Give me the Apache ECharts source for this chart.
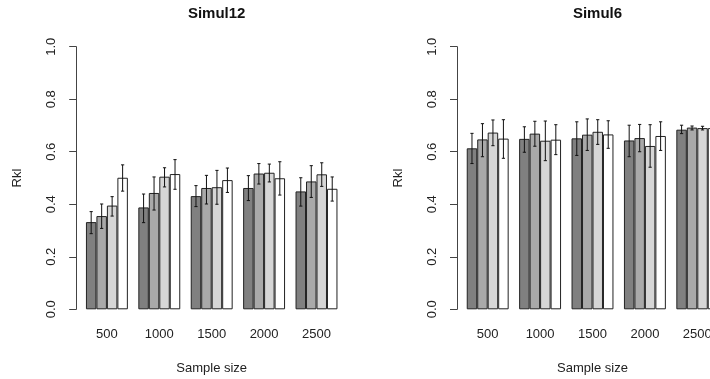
<!DOCTYPE html>
<html>
<head>
<meta charset="utf-8">
<script src="https://cdn.jsdelivr.net/npm/echarts@6/dist/echarts.min.js"></script>
<style>html,body{margin:0;padding:0;background:#fff}#c{width:710px;height:379px}</style>
</head>
<body>
<div id="c"></div>
<script>
const categories = ['500', '1000', '1500', '2000', '2500'];
const yTicks = [0, 0.2, 0.4, 0.6, 0.8, 1.0];
const panelTitles = ['Simul12', 'Simul6'];
const xTitle = 'Sample size';
const yTitle = 'Rkl';

// Simul12: four series (bar shades), values per sample size
const s12Mean1 = [0.332, 0.388, 0.431, 0.462, 0.449];
const s12Lo1   = [0.288, 0.330, 0.391, 0.414, 0.393];
const s12Hi1   = [0.372, 0.439, 0.471, 0.509, 0.501];
const s12Mean2 = [0.355, 0.443, 0.462, 0.517, 0.487];
const s12Lo2   = [0.308, 0.378, 0.401, 0.477, 0.426];
const s12Hi2   = [0.401, 0.504, 0.510, 0.555, 0.547];
const s12Mean3 = [0.395, 0.505, 0.465, 0.520, 0.514];
const s12Lo3   = [0.355, 0.466, 0.400, 0.485, 0.468];
const s12Hi3   = [0.429, 0.539, 0.529, 0.553, 0.558];
const s12Mean4 = [0.501, 0.515, 0.492, 0.499, 0.459];
const s12Lo4   = [0.450, 0.457, 0.445, 0.435, 0.412];
const s12Hi4   = [0.550, 0.570, 0.538, 0.562, 0.504];

// Simul6
const s6Mean1 = [0.613, 0.649, 0.651, 0.643, 0.684];
const s6Lo1   = [0.555, 0.598, 0.586, 0.581, 0.669];
const s6Hi1   = [0.670, 0.695, 0.714, 0.701, 0.701];
const s6Mean2 = [0.647, 0.669, 0.665, 0.652, 0.692];
const s6Lo2   = [0.581, 0.621, 0.605, 0.600, 0.683];
const s6Hi2   = [0.707, 0.716, 0.725, 0.704, 0.698];
const s6Mean3 = [0.673, 0.642, 0.676, 0.622, 0.690];
const s6Lo3   = [0.623, 0.566, 0.628, 0.541, 0.683];
const s6Hi3   = [0.721, 0.717, 0.722, 0.703, 0.697];
const s6Mean4 = [0.650, 0.646, 0.666, 0.660, 0.690];
const s6Lo4   = [0.575, 0.589, 0.613, 0.605, 0.682];
const s6Hi4   = [0.722, 0.703, 0.718, 0.714, 0.698];

const barColors = ['#808080', '#a9a9a9', '#d6d6d6', '#ffffff'];
const FONT = '"Liberation Sans", Arial, sans-serif';

const panels = [
  { means: [s12Mean1, s12Mean2, s12Mean3, s12Mean4], lo: [s12Lo1, s12Lo2, s12Lo3, s12Lo4], hi: [s12Hi1, s12Hi2, s12Hi3, s12Hi4] },
  { means: [s6Mean1, s6Mean2, s6Mean3, s6Mean4], lo: [s6Lo1, s6Lo2, s6Lo3, s6Lo4], hi: [s6Hi1, s6Hi2, s6Hi3, s6Hi4] }
];

const gridLefts = [80.7, 461.5];
const catWidth = 52.4;
const CAT_GAP = 0.2;

const grids = gridLefts.map(l => ({
  left: l, top: 46.7, width: catWidth * categories.length, height: 262.6,
  containLabel: false, outerBoundsMode: 'none'
}));

const xAxes = grids.map((g, i) => ({
  type: 'category', gridIndex: i, data: categories,
  axisLine: { show: false }, axisTick: { show: false },
  axisLabel: { fontFamily: FONT, fontSize: 13, color: '#222', margin: 19, interval: 0, hideOverlap: false },
  name: xTitle, nameLocation: 'middle', nameGap: 53,
  nameTextStyle: { fontFamily: FONT, fontSize: 13, color: '#222' }
}));

const yAxes = grids.map((g, i) => ({
  type: 'value', gridIndex: i, min: yTicks[0], max: yTicks[yTicks.length - 1], interval: 0.2,
  offset: 4.5,
  splitLine: { show: false },
  axisLine: { show: true, lineStyle: { color: '#444', width: 1 } },
  axisTick: { show: true, length: 7, lineStyle: { color: '#444', width: 1 } },
  axisLabel: { rotate: 90, fontFamily: FONT, fontSize: 13, color: '#222', margin: 18,
               formatter: v => v.toFixed(1) },
  name: yTitle, nameLocation: 'middle', nameRotate: 90, nameGap: 52,
  nameTextStyle: { fontFamily: FONT, fontSize: 13, color: '#222' }
}));

const series = [];
panels.forEach((p, gi) => {
  p.means.forEach((m, si) => {
    series.push({
      type: 'bar', xAxisIndex: gi, yAxisIndex: gi, data: m,
      barGap: '0%', barCategoryGap: (CAT_GAP * 100) + '%',
      itemStyle: { color: barColors[si], borderColor: '#222', borderWidth: 1 },
      silent: true, animation: false
    });
  });
  const errData = [];
  p.means.forEach((m, si) => {
    m.forEach((v, ci) => errData.push([ci, p.lo[si][ci], p.hi[si][ci], si]));
  });
  series.push({
    type: 'custom', xAxisIndex: gi, yAxisIndex: gi, data: errData, z: 10, animation: false, silent: true,
    encode: { x: 0, y: [1, 2] },
    renderItem: function (params, api) {
      const ci = api.value(0), si = api.value(3);
      const band = api.size([1, 0])[0];
      const bw = band * (1 - CAT_GAP) / 4;
      const c = api.coord([ci, api.value(1)]);
      const x = c[0] + (si - 1.5) * bw;
      const yLo = c[1];
      const yHi = api.coord([ci, api.value(2)])[1];
      const cap = 1.6;
      const style = { stroke: '#111', lineWidth: 1, fill: null };
      return { type: 'group', children: [
        { type: 'line', shape: { x1: x, y1: yLo, x2: x, y2: yHi }, style: style },
        { type: 'line', shape: { x1: x - cap, y1: yLo, x2: x + cap, y2: yLo }, style: style },
        { type: 'line', shape: { x1: x - cap, y1: yHi, x2: x + cap, y2: yHi }, style: style }
      ]};
    }
  });
});

const chart = echarts.init(document.getElementById('c'), null, { renderer: 'canvas' });
chart.setOption({
  backgroundColor: '#fff',
  animation: false,
  title: panelTitles.map((t, i) => ({
    text: t, left: gridLefts[i] + catWidth * categories.length / 2, top: 1, textAlign: 'center',
    textStyle: { fontFamily: FONT, fontSize: 15, fontWeight: 'bold', color: '#111' }
  })),
  grid: grids, xAxis: xAxes, yAxis: yAxes, series: series
});
</script>
</body>
</html>
